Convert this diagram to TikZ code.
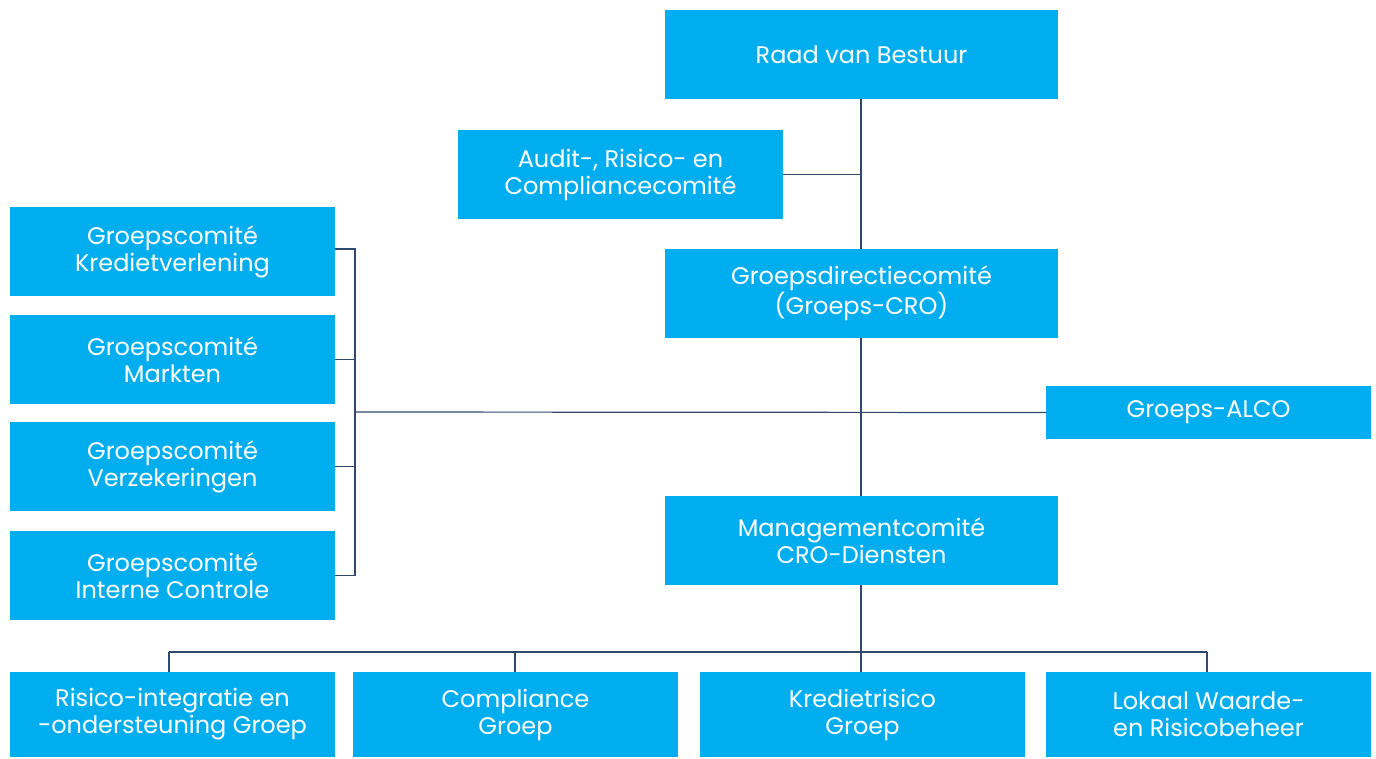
\documentclass[tikz,border=0pt]{standalone}
\usepackage{fontspec}
\setmainfont{Poppins}
\usetikzlibrary{positioning}

\definecolor{boxblue}{RGB}{0,174,239}
\definecolor{linkblue}{RGB}{47,72,110}

\begin{document}
\begin{tikzpicture}[x=1pt, y=-1pt]
\tikzset{
    every node/.style={align=center},
    unit/.style={fill=boxblue, text=white, minimum width=325pt, minimum height=89pt,
        inner sep=0pt, font=\fontsize{24}{27}\selectfont},
    wide/.style={unit, minimum width=393pt},
    low/.style={unit, minimum height=85pt},
    link/.style={draw=linkblue, line width=1.2pt}
}
\useasboundingbox (0,0) rectangle (1376,758);

% top
\node[wide] (rvb) at (861.5,54.5) {Raad van Bestuur};
\node[unit] (arc) at (620.5,174.5) {Audit-, Risico- en\\Compliancecomité};
\node[wide] (gdc) at (861.5,293.5) {Groepsdirectiecomité\\(Groeps-CRO)};
\node[unit, minimum height=53pt] (alco) at (1208.5,412.5) {Groeps-ALCO};
\node[wide] (mcd) at (861.5,540.5) {Managementcomité\\CRO-Diensten};

% left column
\node[unit] (gkv) at (172.5,251.5) {Groepscomité\\Kredietverlening};
\node[unit] (gma) at (172.5,359.5) {Groepscomité\\Markten};
\node[unit] (gve) at (172.5,466.5) {Groepscomité\\Verzekeringen};
\node[unit] (gic) at (172.5,575.5) {Groepscomité\\Interne Controle};

% bottom row
\node[low] (rio) at (172.5,714.5) {Risico-integratie en\\-ondersteuning Groep};
\node[low] (cpg) at (515.5,714.5) {Compliance\\Groep};
\node[low] (krg) at (862.5,714.5) {Kredietrisico\\Groep};
\node[low] (lwr) at (1208.5,714.5) {Lokaal Waarde-\\en Risicobeheer};

% connectors
\coordinate (spine) at (861,412);
\coordinate (bus) at (861,652);
\coordinate (brace) at (355,412);
\draw[link] (rvb.south -| spine) -- (gdc.north -| spine);
\draw[link] (arc.east) -- (arc.east -| spine);
\draw[link] (gdc.south -| spine) -- (mcd.north -| spine);
\draw[link] (brace) -- (alco.west);
\draw[link] (gkv.east |- 0,249) -| (brace) |- (gic.east);
\draw[link] (gma.east) -- (gma.east -| brace);
\draw[link] (gve.east) -- (gve.east -| brace);
\draw[link] (mcd.south -| bus) -- (bus);
\draw[link] (169,652) coordinate (busl) -- (1207,652) coordinate (busr);
\foreach \n/\x in {rio/169, cpg/515, krg/861, lwr/1207}
    \draw[link] (\x,652) -- (\n.north -| \x,0);
\end{tikzpicture}
\end{document}
